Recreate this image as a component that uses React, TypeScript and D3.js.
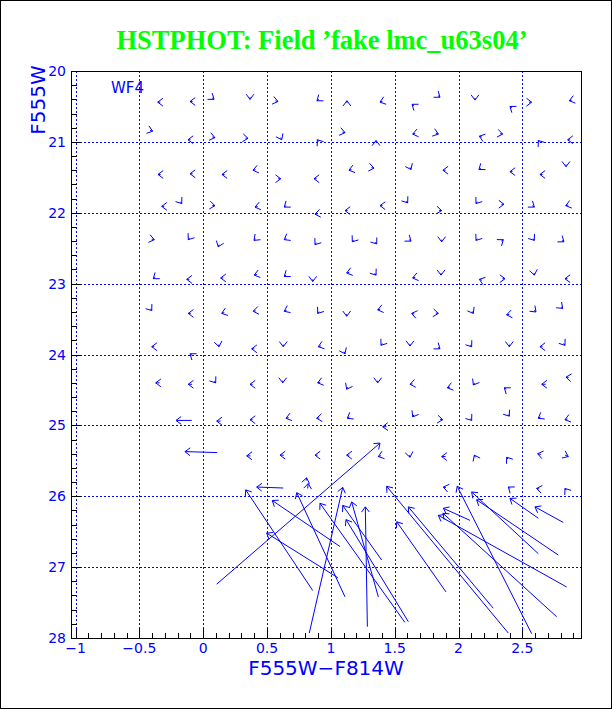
import React from 'react';
import * as d3 from 'd3';

const W = 612;
const H = 709;

const xTickValues = [-1, -0.5, 0, 0.5, 1, 1.5, 2, 2.5];
const xTickLabels = ['\u22121', '\u22120.5', '0', '0.5', '1', '1.5', '2', '2.5'];
const yTickValues = [20, 21, 22, 23, 24, 25, 26, 27, 28];
const yTickLabels = ['20', '21', '22', '23', '24', '25', '26', '27', '28'];

// fake stars: [recovered colour, recovered mag, colour error, mag error]
const rowA = [
  [-0.356, 20.44, -0.02, 0], [-0.103, 20.43, -0.02, 0], [0.085, 20.4, 0.015, 0.02], [0.367, 20.4, 0, 0.03],
  [0.586, 20.43, 0.02, 0.008], [0.891, 20.42, -0.015, 0.02], [1.126, 20.42, 0, -0.03], [1.385, 20.44, -0.02, 0.012],
  [1.636, 20.47, -0.015, -0.02], [1.855, 20.37, 0.015, 0.02], [2.129, 20.41, 0, 0.03], [2.403, 20.5, -0.015, -0.02],
  [2.573, 20.44, 0.02, 0], [2.868, 20.42, -0.02, 0.01],
];
const rowB = [
  [-0.396, 20.85, 0.02, 0.012], [-0.119, 20.97, -0.02, 0], [0.092, 20.94, 0.02, 0.008], [0.351, 20.95, 0.02, 0.004],
  [0.615, 20.97, 0.008, 0.03], [0.894, 20.97, -0.01, -0.025], [1.111, 20.87, 0.02, 0.008], [1.354, 20.98, 0, -0.03],
  [1.641, 20.89, -0.02, 0.008], [1.842, 20.89, 0.02, 0.012], [2.163, 20.92, -0.02, -0.012], [2.346, 20.89, 0.02, 0.006],
  [2.625, 20.98, -0.01, -0.025], [2.855, 20.97, -0.02, 0],
];
const rowC = [
  [-0.354, 21.46, -0.02, 0], [-0.103, 21.45, -0.02, 0], [0.147, 21.46, -0.02, 0], [0.39, 21.4, -0.02, 0.008],
  [0.607, 21.52, 0.02, 0], [0.868, 21.52, -0.02, 0], [1.142, 21.4, -0.02, 0.01], [1.338, 21.37, 0.02, 0.006],
  [1.628, 21.39, 0.008, 0.03], [1.878, 21.4, -0.02, 0], [2.16, 21.39, -0.015, 0.02], [2.403, 21.42, -0.02, 0],
  [2.638, 21.46, -0.02, 0], [2.842, 21.35, 0, 0.03],
];
const rowD = [
  [-0.325, 21.91, -0.02, 0], [-0.168, 21.87, 0.01, 0.025], [0.092, 21.9, 0.02, 0.004], [0.406, 21.92, -0.02, 0.008],
  [0.635, 21.92, -0.015, 0.02], [0.876, 22.02, -0.02, 0.006], [1.111, 21.97, -0.02, 0], [1.385, 21.9, -0.02, 0],
  [1.602, 21.86, 0.01, 0.025], [1.868, 21.97, 0.02, 0.004], [2.137, 21.87, -0.01, 0.025], [2.356, 21.88, 0.02, 0],
  [2.594, 21.92, 0.015, 0.02], [2.84, 21.9, -0.02, 0.01],
];
const rowE = [
  [-0.383, 22.38, 0.02, 0.008], [-0.117, 22.38, -0.01, 0.025], [0.118, 22.48, -0.006, 0.03], [0.398, 22.39, -0.013, 0.022],
  [0.635, 22.38, -0.017, 0.018], [0.876, 22.45, -0.01, 0.025], [1.168, 22.41, -0.01, 0.025], [1.359, 22.44, 0.01, 0.025],
  [1.628, 22.4, 0.015, 0.02], [1.868, 22.41, 0, 0.03], [2.137, 22.39, -0.01, 0.025], [2.351, 22.38, 0.015, -0.02],
  [2.594, 22.39, 0.01, 0.025], [2.826, 22.41, 0.015, 0.02],
];
const rowF = [
  [-0.391, 22.93, -0.015, 0.02], [-0.129, 22.94, -0.02, 0], [0.137, 22.92, -0.02, 0], [0.4, 22.88, -0.02, 0.01],
  [0.635, 22.9, -0.015, 0.02], [0.858, 22.97, 0, 0.03], [1.124, 22.85, -0.02, 0.01], [1.354, 22.88, 0.01, 0.025],
  [1.641, 22.92, -0.02, 0.008], [1.863, 22.88, 0, 0.03], [2.163, 22.94, -0.02, -0.012], [2.364, 22.93, 0.02, 0],
  [2.594, 22.88, 0.003, 0.03], [2.834, 22.93, -0.02, 0],
];
const rowG = [
  [-0.403, 23.38, 0.01, 0.025], [-0.117, 23.42, -0.02, 0], [0.145, 23.42, -0.02, 0.012], [0.392, 23.39, -0.02, 0.006],
  [0.635, 23.39, -0.018, 0.015], [0.897, 23.42, -0.01, 0.025], [1.124, 23.46, 0, 0.03], [1.367, 23.37, -0.02, 0.008],
  [1.633, 23.42, -0.02, -0.008], [1.842, 23.42, 0.02, 0.004], [2.116, 23.42, 0.009, 0.028], [2.377, 23.44, -0.02, 0.006],
  [2.607, 23.4, 0.013, 0.022], [2.816, 23.35, 0.013, 0.022],
];
const rowH = [
  [-0.403, 23.89, -0.02, 0], [-0.103, 23.99, -0.015, -0.02], [0.124, 23.89, 0.003, 0.03], [0.38, 23.92, -0.02, 0],
  [0.627, 23.89, 0, 0.03], [0.902, 23.89, -0.02, 0.012], [1.111, 23.99, 0.008, 0.03], [1.393, 23.87, -0.01, 0.025],
  [1.62, 23.88, 0, 0.03], [1.855, 23.92, 0.015, 0.02], [2.103, 23.89, 0.01, 0.025], [2.398, 23.89, 0, 0.03],
  [2.638, 23.89, -0.02, 0], [2.834, 23.87, 0.01, 0.025],
];
const rowI = [
  [-0.372, 24.4, -0.03, 0], [-0.117, 24.42, -0.03, 0], [0.098, 24.4, 0.01, 0.025], [0.367, 24.42, -0.02, 0],
  [0.623, 24.4, 0, 0.03], [0.897, 24.4, -0.02, 0.01], [1.124, 24.49, -0.008, 0.028], [1.367, 24.4, 0, 0.03],
  [1.62, 24.42, -0.02, 0.006], [1.913, 24.47, -0.02, 0.01], [2.116, 24.43, -0.01, 0.03], [2.359, 24.47, -0.015, -0.02],
  [2.652, 24.42, -0.03, 0], [2.842, 24.32, -0.02, -0.004],
];
const rowJ = [
  [-0.213, 24.93, -0.123, 0], [0.106, 24.94, -0.03, 0], [0.367, 24.92, -0.02, 0], [0.649, 24.9, -0.02, 0.01],
  [0.889, 24.9, -0.02, 0.004], [1.129, 24.9, -0.017, 0.018], [1.406, 25.02, -0.03, 0.002], [1.641, 24.88, -0.01, 0.03],
  [1.876, 24.92, 0.02, 0.004], [2.103, 24.93, 0.01, 0.025], [2.398, 24.87, 0.01, 0.025], [2.625, 24.9, -0.017, 0.018],
  [2.834, 24.92, -0.02, 0.01],
];
const rowK = [
  [-0.143, 25.37, -0.253, -0.014], [0.341, 25.43, -0.03, 0], [0.602, 25.42, -0.03, 0], [0.876, 25.42, -0.02, 0],
  [1.124, 25.42, -0.02, 0], [1.372, 25.44, -0.02, 0.012], [1.62, 25.45, 0.003, 0.03], [1.868, 25.44, -0.03, 0],
  [2.124, 25.42, -0.008, -0.03], [2.377, 25.45, -0.01, -0.025], [2.62, 25.4, -0.025, -0.01], [2.86, 25.44, 0.025, 0.02],
];
const rowL = [
  [0.419, 25.87, -0.208, -0.014], [0.823, 25.82, 0.005, -0.07], [0.81, 25.74, 0.004, -0.04], [1.881, 25.87, -0.02, -0.008],
  [2.39, 25.87, -0.015, -0.02], [2.612, 25.89, -0.02, -0.006], [2.834, 25.89, -0.01, -0.025],
];

// large errors: [input colour, input mag, recovered colour, recovered mag]
const faintStars = [
  [0.106, 27.24, 1.385, 25.25], [0.858, 27.33, 0.333, 25.91], [0.831, 27.93, 1.093, 25.875],
  [2.39, 27.93, 1.437, 25.86], [2.573, 27.94, 1.99, 25.86], [2.782, 26.83, 2.142, 26.05],
  [2.625, 26.31, 2.403, 26.03], [2.821, 26.37, 2.599, 26.15], [2.625, 26.81, 2.103, 25.94],
  [1.286, 27.84, 1.27, 26.15], [1.607, 27.77, 1.119, 26.33], [2.847, 27.28, 1.842, 26.27],
  [2.769, 27.7, 1.878, 26.24], [1.902, 27.35, 1.516, 26.36], [2.272, 27.58, 1.607, 26.15],
  [1.372, 27.42, 1.163, 26.08], [1.398, 26.9, 1.093, 26.13], [2.09, 26.34, 1.881, 26.17],
  [1.072, 26.71, 0.541, 26.06], [1.111, 27.42, 0.733, 25.95], [1.055, 27.15, 0.497, 26.52],
  [1.58, 27.78, 0.915, 26.1],
];

const gridRows = [rowA, rowB, rowC, rowD, rowE, rowF, rowG, rowH, rowI, rowJ, rowK, rowL];

const BLUE = '#0000ff';

export default function App() {
  const x = d3.scaleLinear().domain([-1.03, 2.965]).range([71.7, 581.7]);
  const y = d3.scaleLinear().domain([20, 28]).range([71, 638]);
  const [x0, x1] = x.range();
  const [y0, y1] = y.range();

  type Seg = { ax: number; ay: number; bx: number; by: number };
  const segs: Seg[] = [];
  gridRows.forEach((row) =>
    row.forEach(([c, m, ec, em]) =>
      segs.push({ ax: x(c - ec), ay: y(m - em), bx: x(c), by: y(m) })
    )
  );
  faintStars.forEach(([ic, im, oc, om]) =>
    segs.push({ ax: x(ic), ay: y(im), bx: x(oc), by: y(om) })
  );

  const headLen = 6.5;
  const ang = (37 * Math.PI) / 180;
  const arrowPath = (s: Seg) => {
    const p = d3.path();
    const dx = s.bx - s.ax;
    const dy = s.by - s.ay;
    const len = Math.hypot(dx, dy) || 1;
    const ux = -dx / len;
    const uy = -dy / len;
    const cs = Math.cos(ang);
    const sn = Math.sin(ang);
    p.moveTo(s.ax, s.ay);
    p.lineTo(s.bx, s.by);
    p.moveTo(s.bx + headLen * (ux * cs - uy * sn), s.by + headLen * (ux * sn + uy * cs));
    p.lineTo(s.bx, s.by);
    p.lineTo(s.bx + headLen * (ux * cs + uy * sn), s.by + headLen * (-ux * sn + uy * cs));
    return p.toString();
  };

  const xMinor = d3.range(-10, 30).map((i) => i / 10);
  const yMinor = d3.range(0, 41).map((i) => 20 + i / 5);
  const gridX = [-1, -0.5, 0, 0.5, 1, 1.5, 2, 2.5];
  const gridY = [20, 21, 22, 23, 24, 25, 26, 27];

  const tickFont = 'DejaVu Sans, sans-serif';

  return (
    <svg
      width={W}
      height={H}
      viewBox={`0 0 ${W} ${H}`}
      style={{ position: 'absolute', left: 0, top: 0, background: '#fff' }}
    >
      <rect x={0.5} y={0.5} width={W - 1} height={H - 1} fill="#fff" stroke="#000" strokeWidth={1} />
      <text
        x={322}
        y={49}
        textAnchor="middle"
        fill="#00ff00"
        fontFamily="Liberation Serif, serif"
        fontWeight="bold"
        fontSize={26.5}
      >
        HSTPHOT: Field ’fake lmc_u63s04’
      </text>

      <g stroke={BLUE} strokeWidth={1} strokeDasharray="2,2" shapeRendering="crispEdges">
        {gridX.map((v) => (
          <line key={'gx' + v} x1={Math.round(x(v)) + 0.5} x2={Math.round(x(v)) + 0.5} y1={y0} y2={y1} />
        ))}
        {gridY.map((v) => (
          <line key={'gy' + v} x1={x0} x2={x1} y1={Math.round(y(v)) + 0.5} y2={Math.round(y(v)) + 0.5} />
        ))}
      </g>

      <g fill="none" stroke={BLUE} strokeWidth={1}>
        {segs.map((s, i) => (
          <path key={i} d={arrowPath(s)} />
        ))}
      </g>

      <g stroke="#000" strokeWidth={1} shapeRendering="crispEdges">
        <rect x={x0} y={y0} width={x1 - x0} height={y1 - y0} fill="none" />
        {xMinor.map((v) => {
          const major = Math.abs(v * 2 - Math.round(v * 2)) < 1e-6;
          return (
            <line key={'xt' + v} x1={Math.round(x(v)) + 0.5} x2={Math.round(x(v)) + 0.5} y1={y1} y2={y1 - (major ? 9 : 5)} />
          );
        })}
        {yMinor.map((v) => {
          const major = Math.abs(v - Math.round(v)) < 1e-6;
          return (
            <line key={'yt' + v} x1={x0} x2={x0 + (major ? 9 : 5)} y1={Math.round(y(v)) + 0.5} y2={Math.round(y(v)) + 0.5} />
          );
        })}
      </g>

      <g fill={BLUE} fontFamily={tickFont} fontSize={14}>
        {xTickValues.map((v, i) => (
          <text key={'xl' + v} x={x(v)} y={653} textAnchor="middle">
            {xTickLabels[i]}
          </text>
        ))}
        {yTickValues.map((v, i) => (
          <text key={'yl' + v} x={66} y={y(v) + 5} textAnchor="end">
            {yTickLabels[i]}
          </text>
        ))}
      </g>

      <text x={326} y={675} textAnchor="middle" fill={BLUE} fontFamily={tickFont} fontSize={20}>
        F555W{'\u2212'}F814W
      </text>
      <text
        transform="translate(45,100) rotate(-90)"
        textAnchor="middle"
        fill={BLUE}
        fontFamily={tickFont}
        fontSize={20}
      >
        F555W
      </text>
      <text x={111} y={93} fill={BLUE} fontFamily={tickFont} fontSize={15}>
        WF4
      </text>
    </svg>
  );
}
